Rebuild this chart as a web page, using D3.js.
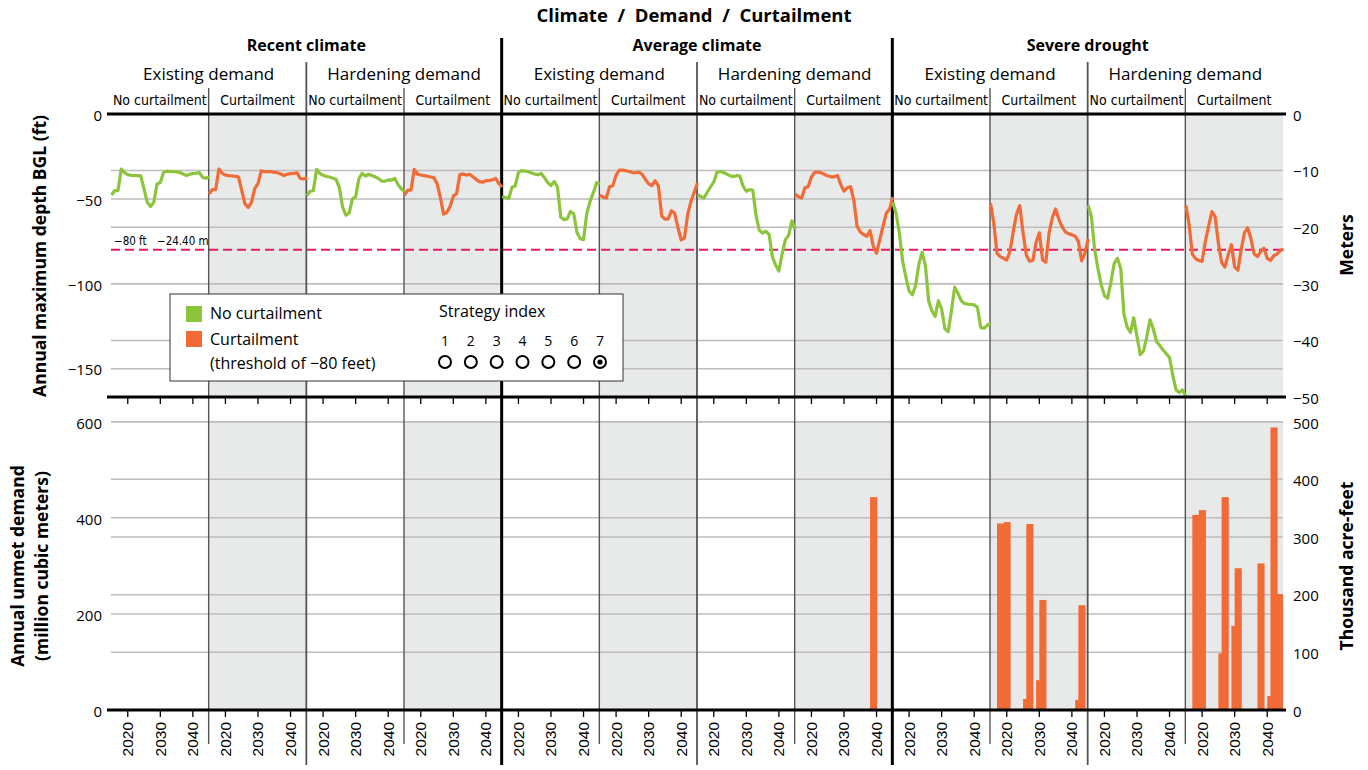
<!DOCTYPE html>
<html>
<head>
<meta charset="utf-8">
<script src="https://cdn.jsdelivr.net/npm/d3@7"></script>
<style>
  body { margin: 0; background: #fff; }
  text { font-family: "Open Sans", "Noto Sans", sans-serif; fill: #000; }
  .cond { font-family: "Liberation Sans Narrow", "DejaVu Sans Condensed", sans-serif; }
  .yr { font-family: "Liberation Sans", Arial, sans-serif; }
</style>
</head>
<body>
<script>
// Depth / demand / curtailment small multiples

// categories
var climates = ['Recent climate', 'Average climate', 'Severe drought'];
var demands = ['Existing demand', 'Hardening demand'];
var curtailments = ['No curtailment', 'Curtailment'];
var years = [2015, 2016, 2017, 2018, 2019, 2020, 2021, 2022, 2023, 2024, 2025, 2026, 2027, 2028, 2029, 2030,
             2031, 2032, 2033, 2034, 2035, 2036, 2037, 2038, 2039, 2040, 2041, 2042, 2043, 2044, 2045];

// annual maximum depth below ground level (ft), one array per panel
var recentExistingNo = [-47.7, -45.1, -45.1, -32.4, -34.5, -35.7, -36.1, -36.3, -36.3, -36.5, -44.2, -52, -54.5, -52, -41.2, -40.4,
  -34.3, -33.7, -33.9, -33.9, -34.1, -34.5, -35.3, -36.3, -35.5, -35.1, -34.9, -34.5, -37.3, -37.9, -37.1];
var recentExistingCurt = [-47, -44.5, -44.5, -32.4, -35, -36, -36.3, -36.5, -36.7, -37, -45, -53, -55, -52, -44, -41,
  -33.5, -34, -34, -34, -34.3, -34.6, -35.3, -36.3, -35.5, -35.1, -35, -34.7, -38, -38.3, -37.5];
var recentHardeningNo = [-48.1, -45.5, -45.1, -32.6, -35.1, -36.1, -36.8, -37.1, -37.9, -38.5, -43.4, -54.9, -59.6, -58.4, -50, -48.8,
  -38, -35, -36.5, -35.5, -36.2, -37, -38, -39.5, -39.6, -38.8, -39, -37.9, -41.5, -44, -45.7];
var recentHardeningCurt = [-47.7, -45, -44.7, -32.6, -35.4, -35.9, -36.3, -36.7, -37.1, -37.5, -41, -49, -59, -58, -54.5, -48.4,
  -47, -35.7, -35.3, -36, -35.5, -37, -38.5, -39.8, -40.2, -39.3, -39.2, -38.8, -38, -41, -43];
var averageExistingNo = [-48.6, -49.2, -49.9, -43.2, -42.4, -34.5, -33.4, -33.6, -34, -34.8, -35.4, -35.8, -35, -37.5, -40.4, -42.2,
  -39.7, -43, -60.8, -62.2, -61.8, -57.4, -58.8, -70, -73.5, -74, -58.5, -51.5, -46.5, -40.5, -41.2];
var averageExistingCurt = [-47.7, -49, -49.5, -42.8, -42.2, -36, -33, -33.1, -33.4, -33.9, -34.5, -34.6, -34.3, -35.5, -38.5, -41.2,
  -42.2, -39.3, -42.5, -60, -62, -61.8, -57, -58.5, -67, -74.2, -73, -59, -51.5, -46, -40.6];
var averageHardeningNo = [-47.5, -48.6, -49.5, -46, -43, -40, -34.2, -33.9, -34.5, -35.4, -36.4, -36.9, -36.2, -36.5, -42.5, -45.5,
  -44.5, -45, -60, -68.5, -70.1, -69, -71, -84, -89, -92.5, -82.5, -74, -71.5, -63, -67.7];
var averageHardeningCurt = [-47.1, -48.8, -49.5, -43.5, -42.9, -37, -34.3, -34.2, -34.6, -35.6, -36.4, -37, -37, -36.2, -41.5, -45.4,
  -43.5, -42.8, -50.5, -66, -69.5, -71, -72, -68.7, -78, -82, -74, -66, -58.5, -56, -49];
var severeExistingNo = [-52, -58.5, -70, -86.5, -96, -104.3, -106.5, -101, -88.5, -81.4, -89, -110, -116, -119.2, -110, -115,
  -126.5, -128.2, -116, -102, -105.5, -110, -111.6, -112, -112.2, -112.4, -114, -125.8, -126.2, -124.5, -123.2];
var severeExistingCurt = [-52.6, -64, -82, -84, -85, -86, -81, -69, -59, -54, -70, -83, -86.7, -86.3, -75.5, -70,
  -86, -87.3, -70, -61, -55.9, -62, -66.5, -69.5, -70.5, -71.2, -72, -75, -86.5, -82, -73.5];
var severeHardeningNo = [-53.9, -60.5, -80, -91, -100.5, -107, -108.5, -99, -88, -85, -91, -118, -125.5, -128.7, -120, -131,
  -141.8, -139.6, -131.4, -121.2, -126.5, -134, -136.4, -139, -141.2, -143.5, -154, -162.5, -164, -162.5, -166.5];
var severeHardeningCurt = [-53.9, -65, -82.5, -85.2, -86.3, -86.8, -75, -66, -57.5, -60.5, -76, -87.5, -90.2, -83, -77, -90.2,
  -92, -80, -70, -67, -73.5, -82.5, -84, -81, -79, -85, -86.3, -83.5, -82.5, -80.5, -79.4];

// annual unmet demand (million cubic meters), only panels that have any
var unmetAverageHardeningCurt = [0, 0, 0, 0, 0, 0, 0, 0, 0, 0, 0, 0, 0, 0, 0, 0, 0, 0, 0, 0, 0, 0, 0, 443, 443, 0, 0, 0, 0, 0, 0];
var unmetSevereExistingCurt = [0, 0, 388, 388, 391, 391, 0, 0, 0, 0, 23, 387, 387, 0, 62, 229, 229, 0, 0, 0, 0, 0, 0, 0, 0, 0, 21, 218, 218, 0, 0];
var unmetSevereHardeningCurt = [0, 0, 406, 406, 416, 416, 0, 0, 0, 0, 118, 443, 443, 0, 175, 295, 295, 0, 0, 0, 0, 0, 305, 305, 0, 29, 588, 588, 241, 241, 0];

// tick labels
var feetTicks = [0, -50, -100, -150];
var meterTicks = [0, -10, -20, -30, -40, -50];
var mcmTicks = [0, 200, 400, 600];
var tafTicks = [0, 100, 200, 300, 400, 500];
var yearTicks = [2020, 2030, 2040];
var threshold = -80;
var strategies = [1, 2, 3, 4, 5, 6, 7];
var selectedStrategy = 7;

var depthSeries = [recentExistingNo, recentExistingCurt, recentHardeningNo, recentHardeningCurt,
                   averageExistingNo, averageExistingCurt, averageHardeningNo, averageHardeningCurt,
                   severeExistingNo, severeExistingCurt, severeHardeningNo, severeHardeningCurt];
var unmetSeries = [null, null, null, null, null, null, null, unmetAverageHardeningCurt,
                   null, unmetSevereExistingCurt, null, unmetSevereHardeningCurt];

var green = '#8cc43c', orange = '#f26b36', shade = '#e8e9e9', grid = '#bdbdbd', pink = '#e8186a';

var W = 1368, H = 770;
var left = 111, right = 1283;
var topY0 = 114, topY1 = 397, botY0 = 421.7, botY1 = 710;

var svg = d3.select('body').append('svg')
    .attr('width', W)
    .attr('height', H);

// scales
var panelScale = d3.scaleBand().domain(d3.range(12)).range([left, right]);
var pw = panelScale.bandwidth();
var xYear = d3.scaleLinear().domain([2014.85, 2044.85]).range([0, pw]);
var yFeet = d3.scaleLinear().domain([0, -166.7]).range([topY0, topY1]);
var yMeters = d3.scaleLinear().domain([0, -50]).range([topY0, topY1]);
var yMcm = d3.scaleLinear().domain([0, 600]).range([botY1, botY0]);
var yTaf = d3.scaleLinear().domain([0, 500]).range([botY1, botY0]);

var panels = d3.range(12).map(function (i) {
  return {
    i: i,
    climate: Math.floor(i / 4),
    demand: Math.floor(i / 2) % 2,
    curt: i % 2,
    x0: panelScale(i),
    depth: depthSeries[i],
    unmet: unmetSeries[i]
  };
});

// shading for curtailment panels
var shaded = panels.filter(function (d) { return d.curt === 1; });
svg.selectAll('rect.shadeTop').data(shaded).enter().append('rect')
  .attr('x', function (d) { return d.x0; })
  .attr('y', topY0)
  .attr('width', pw)
  .attr('height', topY1 - topY0)
  .attr('fill', shade);
svg.selectAll('rect.shadeBot').data(shaded).enter().append('rect')
  .attr('x', function (d) { return d.x0; })
  .attr('y', botY0)
  .attr('width', pw)
  .attr('height', botY1 - botY0)
  .attr('fill', shade);

// gridlines
var gridTop = feetTicks.map(function (d) { return yFeet(d); })
  .concat(meterTicks.map(function (d) { return yMeters(d); }))
  .filter(function (y) { return y > topY0 + 2 && y < topY1 - 2; });
svg.selectAll('line.gridTop').data(gridTop).enter().append('line')
  .attr('x1', left).attr('x2', right)
  .attr('y1', function (d) { return d; }).attr('y2', function (d) { return d; })
  .attr('stroke', grid).attr('stroke-width', 1.5);

var gridBot = mcmTicks.map(function (d) { return yMcm(d); })
  .concat(tafTicks.map(function (d) { return yTaf(d); }))
  .filter(function (y) { return y < botY1 - 2; });
svg.selectAll('line.gridBot').data(gridBot).enter().append('line')
  .attr('x1', left).attr('x2', right)
  .attr('y1', function (d) { return d; }).attr('y2', function (d) { return d; })
  .attr('stroke', grid).attr('stroke-width', 1.5);

// threshold line
svg.append('line')
  .attr('x1', left).attr('x2', right)
  .attr('y1', yFeet(threshold)).attr('y2', yFeet(threshold))
  .attr('stroke', pink).attr('stroke-width', 2)
  .attr('stroke-dasharray', '9,5');
svg.append('text').attr('class', 'cond')
  .attr('x', 114).attr('y', yFeet(threshold) - 5)
  .attr('font-size', 11.5).text('\u221280 ft');
svg.append('text').attr('class', 'cond')
  .attr('x', 157).attr('y', yFeet(threshold) - 5)
  .attr('font-size', 11.5).text('\u221224.40 m');

// panel separators (inside plots)
var seps = d3.range(1, 12);
var sepColor = function (i) { return i % 4 === 0 ? '#000' : '#555'; };
var sepWidth = function (i) { return i % 4 === 0 ? 3 : (i % 2 === 0 ? 1.8 : 1.4); };
var sepTop = function (i) { return i % 4 === 0 ? 38 : (i % 2 === 0 ? 62 : 88); };
var sepBottom = function (i) { return i % 4 === 0 ? 765 : (i % 2 === 0 ? 765 : 744); };
svg.selectAll('line.sep').data(seps).enter().append('line')
  .attr('x1', function (i) { return panelScale(i); })
  .attr('x2', function (i) { return panelScale(i); })
  .attr('y1', function (i) { return sepTop(i); })
  .attr('y2', function (i) { return sepBottom(i); })
  .attr('stroke', function (i) { return sepColor(i); })
  .attr('stroke-width', function (i) { return sepWidth(i); });

// bars of unmet demand
panels.forEach(function (p) {
  if (!p.unmet) return;
  var rows = years.map(function (y, k) { return {year: y, v: p.unmet[k]}; })
    .filter(function (d) { return d.v > 0; });
  svg.selectAll('rect.bar' + p.i).data(rows).enter().append('rect')
    .attr('x', function (d) { return p.x0 + xYear(d.year); })
    .attr('width', function (d) { return Math.min(xYear(d.year + 1) + 0.6, pw) - xYear(d.year); })
    .attr('y', function (d) { return yMcm(d.v); })
    .attr('height', function (d) { return botY1 - yMcm(d.v); })
    .attr('fill', orange);
});

// depth lines
var line = d3.line()
  .x(function (d) { return d.x; })
  .y(function (d) { return yFeet(d.v); });
panels.forEach(function (p) {
  var pts = years.map(function (y, k) { return {x: p.x0 + xYear(y), v: p.depth[k]}; });
  svg.append('path')
    .datum(pts)
    .attr('d', line)
    .attr('fill', 'none')
    .attr('stroke', p.curt ? orange : green)
    .attr('stroke-width', 3.2)
    .attr('stroke-linejoin', 'round');
});

// frame lines
svg.append('line').attr('x1', 107).attr('x2', 1286).attr('y1', topY0).attr('y2', topY0)
  .attr('stroke', '#000').attr('stroke-width', 3);
svg.append('line').attr('x1', 107).attr('x2', 1286).attr('y1', topY1).attr('y2', topY1)
  .attr('stroke', '#000').attr('stroke-width', 3);
svg.append('line').attr('x1', 107).attr('x2', 1286).attr('y1', botY1).attr('y2', botY1)
  .attr('stroke', '#000').attr('stroke-width', 3);

// year ticks under both plots
panels.forEach(function (p) {
  var g = svg.append('g');
  g.selectAll('line.t1').data(yearTicks).enter().append('line')
    .attr('x1', function (d) { return p.x0 + xYear(d); })
    .attr('x2', function (d) { return p.x0 + xYear(d); })
    .attr('y1', topY1).attr('y2', topY1 + 7)
    .attr('stroke', '#000').attr('stroke-width', 1.3);
  g.selectAll('line.t2').data(yearTicks).enter().append('line')
    .attr('x1', function (d) { return p.x0 + xYear(d); })
    .attr('x2', function (d) { return p.x0 + xYear(d); })
    .attr('y1', botY1).attr('y2', botY1 + 7)
    .attr('stroke', '#000').attr('stroke-width', 1.3);
  g.selectAll('text.yr').data(yearTicks).enter().append('text')
    .attr('class', 'yr')
    .attr('transform', function (d) {
      return 'translate(' + (p.x0 + xYear(d) + 5.5) + ',' + (botY1 + 12) + ') rotate(-90)';
    })
    .attr('text-anchor', 'end')
    .attr('font-size', 15.5)
    .text(function (d) { return d; });
});

// y axes
var fmt = d3.format('d');
function styleAxis(g) {
  g.select('.domain').remove();
  g.selectAll('text').attr('font-size', 15).attr('font-family', '"Open Sans", sans-serif')
    .attr('fill', '#000').attr('dy', '0.42em');
}
svg.append('g').attr('transform', 'translate(' + left + ',0)')
  .call(d3.axisLeft(yFeet).tickValues(feetTicks).tickSize(0).tickPadding(9).tickFormat(fmt))
  .call(styleAxis);
svg.append('g').attr('transform', 'translate(' + right + ',0)')
  .call(d3.axisRight(yMeters).tickValues(meterTicks).tickSize(0).tickPadding(10).tickFormat(fmt))
  .call(styleAxis);
svg.append('g').attr('transform', 'translate(' + left + ',0)')
  .call(d3.axisLeft(yMcm).tickValues(mcmTicks).tickSize(0).tickPadding(9).tickFormat(fmt))
  .call(styleAxis);
svg.append('g').attr('transform', 'translate(' + right + ',0)')
  .call(d3.axisRight(yTaf).tickValues(tafTicks).tickSize(0).tickPadding(10).tickFormat(fmt))
  .call(styleAxis);

// axis titles
function vTitle(x, y, lines) {
  var t = svg.append('text')
    .attr('transform', 'translate(' + x + ',' + y + ') rotate(-90)')
    .attr('text-anchor', 'middle')
    .attr('font-size', 17.5)
    .attr('font-weight', 'bold');
  lines.forEach(function (s, k) {
    t.append('tspan').attr('x', 0).attr('dy', k === 0 ? 0 : 24).text(s);
  });
}
vTitle(46, 256, ['Annual maximum depth BGL (ft)']);
vTitle(24, 566, ['Annual unmet demand', '(million cubic meters)']);
vTitle(1353, 245, ['Meters']);
vTitle(1353, 566, ['Thousand acre-feet']);

// headers
svg.append('text')
  .attr('x', (left + right) / 2 - 3).attr('y', 22)
  .attr('text-anchor', 'middle').attr('font-size', 18.5).attr('font-weight', 'bold')
  .text('Climate\u00a0 /\u00a0 Demand\u00a0 /\u00a0 Curtailment');
climates.forEach(function (c, k) {
  svg.append('text')
    .attr('x', panelScale(k * 4) + pw * 2).attr('y', 51)
    .attr('text-anchor', 'middle').attr('font-size', 16).attr('font-weight', 'bold')
    .text(c);
});
panels.filter(function (p) { return p.curt === 0; }).forEach(function (p) {
  svg.append('text')
    .attr('x', p.x0 + pw).attr('y', 80)
    .attr('text-anchor', 'middle').attr('font-size', 17)
    .text(demands[p.demand]);
});
panels.forEach(function (p) {
  svg.append('text').attr('class', 'cond')
    .attr('x', p.x0 + pw / 2).attr('y', 105)
    .attr('text-anchor', 'middle').attr('font-size', 14)
    .text(curtailments[p.curt]);
});

// legend
var lg = svg.append('g').attr('transform', 'translate(170,294)');
lg.append('rect').attr('width', 453).attr('height', 87)
  .attr('fill', '#fff').attr('stroke', '#333').attr('stroke-width', 1);
lg.append('rect').attr('x', 16).attr('y', 12).attr('width', 16).attr('height', 16).attr('fill', green);
lg.append('rect').attr('x', 16).attr('y', 37).attr('width', 16).attr('height', 16).attr('fill', orange);
lg.append('text').attr('x', 40).attr('y', 25).attr('font-size', 16).text(curtailments[0]);
lg.append('text').attr('x', 40).attr('y', 51).attr('font-size', 16).text(curtailments[1]);
lg.append('text').attr('x', 40).attr('y', 75).attr('font-size', 16).text('(threshold of \u221280 feet)');
lg.append('text').attr('x', 269).attr('y', 23).attr('font-size', 16).text('Strategy index');
var sx = d3.scalePoint().domain(strategies).range([275, 430]);
lg.selectAll('text.sn').data(strategies).enter().append('text')
  .attr('x', function (d) { return sx(d); }).attr('y', 52)
  .attr('text-anchor', 'middle').attr('font-size', 14)
  .text(function (d) { return d; });
lg.selectAll('circle.sc').data(strategies).enter().append('circle')
  .attr('cx', function (d) { return sx(d); }).attr('cy', 68).attr('r', 6)
  .attr('fill', '#fff').attr('stroke', '#000').attr('stroke-width', 2);
lg.append('circle').attr('cx', sx(selectedStrategy)).attr('cy', 68).attr('r', 2.6).attr('fill', '#000');
</script>
</body>
</html>
